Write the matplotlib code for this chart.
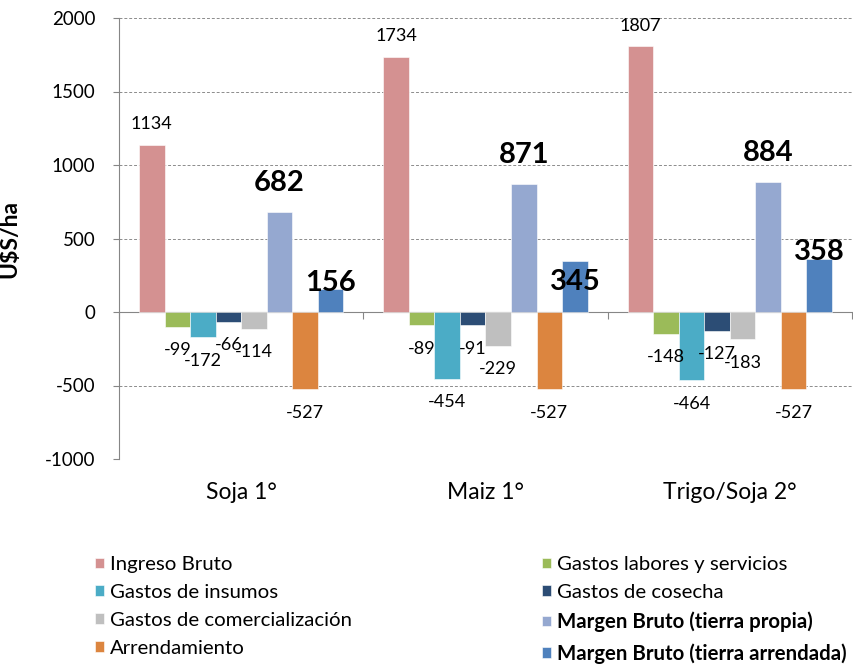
"""Margen bruto por cultivo: barras agrupadas de ingresos, gastos y margen."""
import matplotlib
matplotlib.use("Agg")
import matplotlib.pyplot as plt
import matplotlib.transforms as mtransforms
import numpy as np

plt.rcParams["font.family"] = ["Lato", "DejaVu Sans"]

categories = ["Soja 1°", "Maiz 1°", "Trigo/Soja 2°"]
series_names = [
    "Ingreso Bruto",
    "Gastos labores y servicios",
    "Gastos de insumos",
    "Gastos de cosecha",
    "Gastos de comercialización",
    "Margen Bruto (tierra propia)",
    "Arrendamiento",
    "Margen Bruto (tierra arrendada)",
]
ingreso = [1134, 1734, 1807]
labores = [-99, -89, -148]
insumos = [-172, -454, -464]
cosecha = [-66, -91, -127]
comercializacion = [-114, -229, -183]
margen_propia = [682, 871, 884]
arrendamiento = [-527, -527, -527]
margen_arrendada = [156, 345, 358]
y_ticks = [-1000, -500, 0, 500, 1000, 1500, 2000]

series = [ingreso, labores, insumos, cosecha, comercializacion,
          margen_propia, arrendamiento, margen_arrendada]
colors = ["#D49191", "#9BBB59", "#4BACC6", "#2C4D75", "#BFBFBF",
          "#95A8D0", "#DC853F", "#4F81BD"]
bold = [False, False, False, False, False, True, False, True]
# label offset (points) from bar end, per series; arrendada labels sit oddly in the source
label_off = [[15] * 3, [-17] * 3, [-17] * 3, [-17] * 3, [-17] * 3,
             [21] * 3, [-17] * 3, [4.5, -15, 5]]

fig = plt.figure(figsize=(8.54, 6.65), dpi=100)
ax = fig.add_axes([119 / 854, 1 - 459 / 665, 733 / 854, 441 / 665])

x = np.arange(len(categories))
width = 0.1045
n = len(series)
handles = []
for i, (vals, col) in enumerate(zip(series, colors)):
    pos = x + (i - (n - 1) / 2) * width
    bars = ax.bar(pos, vals, width, color=col, edgecolor="white", linewidth=0.4,
                  label=series_names[i], zorder=3)
    handles.append(bars)
    for p, v, off in zip(pos, vals, label_off[i]):
        ax.annotate(f"{v}", xy=(p, v), xytext=(0, off), textcoords="offset points",
                    ha="center", va="center",
                    fontsize=21 if bold[i] else 13,
                    fontweight="bold" if bold[i] else "normal",
                    color="black", zorder=5)

ax.set_xlim(-0.5, len(categories) - 0.5)
ax.set_ylim(-1000, 2000)
ax.set_yticks(y_ticks)
ax.set_yticklabels([str(t) for t in y_ticks], fontsize=13.5)
ax.tick_params(axis="y", direction="out", length=4, width=0.8, color="#868686", pad=13)
ax.yaxis.grid(True, color="#8C8C8C", linestyle=(0, (3, 2)), linewidth=0.7, zorder=0)

# category axis crosses at zero, ticks between groups
ax.spines["bottom"].set_position(("data", 0))
ax.spines["bottom"].set_color("#868686")
ax.spines["left"].set_color("#868686")
ax.spines["top"].set_visible(False)
ax.spines["right"].set_visible(False)
ax.set_xticks(np.arange(-0.5, len(categories), 1.0))
ax.set_xticklabels([])
ax.tick_params(axis="x", direction="out", length=5, width=0.8, color="#868686")

trans = mtransforms.blended_transform_factory(ax.transData, ax.transAxes)
for xi, cat in zip(x, categories):
    ax.text(xi, -0.077, cat, transform=trans, ha="center", va="center", fontsize=16.5)

ax.set_ylabel("U$S/ha", fontsize=16.5, fontweight="bold")
ax.yaxis.set_label_coords(-0.134, 0.5)

# legend: two columns, filled row by row
leg_kw = dict(loc="upper left", frameon=False, fontsize=14.7, handlelength=0.42,
              handleheight=0.42, handletextpad=0.3, labelspacing=0.53, borderpad=0)
col1 = [0, 2, 4, 6]
col2 = [1, 3, 5, 7]
for idx, xa in ((col1, 85 / 854), (col2, 532 / 854)):
    leg = fig.legend([handles[k] for k in idx], [series_names[k] for k in idx],
                     bbox_to_anchor=(xa, 1 - 546 / 665), **leg_kw)
    for t, k in zip(leg.get_texts(), idx):
        if bold[k]:
            t.set_fontweight("bold")

fig.savefig("out.png", dpi=100)
plt.close(fig)
